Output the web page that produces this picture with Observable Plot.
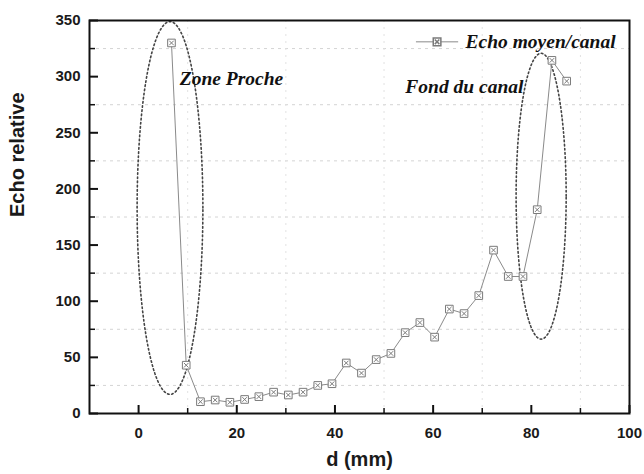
<!DOCTYPE html>
<html><head><meta charset="utf-8">
<script src="https://cdn.jsdelivr.net/npm/d3@7"></script>
<script src="https://cdn.jsdelivr.net/npm/@observablehq/plot@0.6"></script>
<style>body{margin:0;background:#fff}</style>
</head><body><div id="chart"></div>
<script>
const distance = [6.7, 9.7, 12.6, 15.6, 18.6, 21.6, 24.5, 27.5, 30.5, 33.5, 36.5, 39.4, 42.3, 45.4, 48.4, 51.4, 54.3, 57.3, 60.3, 63.3, 66.3, 69.3, 72.3, 75.3, 78.3, 81.2, 84.2, 87.2];
const echo = [330, 43, 10.5, 12, 10, 12.5, 15, 19, 16.5, 19, 25, 26.5, 45, 36, 48, 53.5, 72, 81, 68, 93, 89, 105, 145.5, 122, 122, 181.5, 314.5, 296];
const xTicks = [0, 20, 40, 60, 80, 100];
const xMinor = [10, 30, 50, 70, 90];
const yTicks = [0, 50, 100, 150, 200, 250, 300, 350];
const yMinor = [25, 75, 125, 175, 225, 275, 325];
const seriesName = "Echo moyen/canal";
const zoneLabels = ["Zone Proche", "Fond du canal"];
// ellipse annotations: centre and half-axes in data units
const ellipseCx = [6.4, 82.0];
const ellipseCy = [183, 193.5];
const ellipseRx = [6.7, 5.1];
const ellipseRy = [166, 127.3];

const xDomain = [-10, 100];
const yDomain = [0, 350];
const W = 644, H = 474, mL = 89, mR = 15, mT = 20, mB = 61;
const innerW = W - mL - mR, innerH = H - mT - mB;
// tick length in pixels converted to data units
const yPx = px => (yDomain[1] - yDomain[0]) * px / innerH;
const xPx = px => (xDomain[1] - xDomain[0]) * px / innerW;

const data = distance.map((d, i) => ({d, v: echo[i]}));
const ellipsePts = [];
ellipseCx.forEach((cx, k) => {
  for (let i = 0; i <= 120; i++) {
    const t = (i / 120) * 2 * Math.PI;
    ellipsePts.push({k, x: cx + ellipseRx[k] * Math.cos(t), y: ellipseCy[k] + ellipseRy[k] * Math.sin(t)});
  }
});

const serif = "'Liberation Serif', 'Times New Roman', serif";
const sans = "'Liberation Sans', Arial, sans-serif";
const markerStroke = "#7a7a7a";

const chart = Plot.plot({
  width: W,
  height: H,
  marginLeft: mL,
  marginRight: mR,
  marginTop: mT,
  marginBottom: mB,
  style: {fontFamily: sans, background: "#fff"},
  x: {domain: xDomain},
  y: {domain: yDomain},
  marks: [
    Plot.ruleY(yMinor, {stroke: "#d4d4d4", strokeDasharray: "3,4", strokeWidth: 1}),
    Plot.ruleX(xMinor, {stroke: "#e2e2e2", strokeDasharray: "2,5", strokeWidth: 1}),
    Plot.line(ellipsePts, {x: "x", y: "y", z: "k", stroke: "#444", strokeWidth: 1.6, strokeDasharray: "1.6,2.6", curve: "linear"}),
    Plot.line(data, {x: "d", y: "v", stroke: "#8a8a8a", strokeWidth: 1}),
    Plot.dot(data, {x: "d", y: "v", symbol: "square", r: 4.3, stroke: markerStroke, fill: "#fff", strokeWidth: 1}),
    Plot.dot(data, {x: "d", y: "v", symbol: "times", r: 2.2, stroke: markerStroke, strokeWidth: 1}),
    // legend
    Plot.ruleY([331], {x1: 56.6, x2: 65.2, stroke: "#8a8a8a", strokeWidth: 1}),
    Plot.dot([60.8], {x: d => d, y: 331, symbol: "square", r: 4.3, stroke: markerStroke, fill: "#fff"}),
    Plot.dot([60.8], {x: d => d, y: 331, symbol: "times", r: 2.2, stroke: markerStroke}),
    Plot.text([seriesName], {x: 66.6, y: 331, text: d => d, textAnchor: "start", fontFamily: serif, fontStyle: "italic", fontWeight: "bold", fontSize: 19.5, fill: "#111"}),
    // annotations
    Plot.text([zoneLabels[0]], {x: 8.4, y: 298, text: d => d, textAnchor: "start", fontFamily: serif, fontStyle: "italic", fontWeight: "bold", fontSize: 19.5, fill: "#111"}),
    Plot.text([zoneLabels[1]], {x: 78.4, y: 291, text: d => d, textAnchor: "end", fontFamily: serif, fontStyle: "italic", fontWeight: "bold", fontSize: 19.5, fill: "#111"}),
    // inward ticks
    Plot.ruleX(xTicks, {y1: yDomain[0], y2: yDomain[0] + yPx(8), stroke: "#111", strokeWidth: 2}),
    Plot.ruleX(xMinor, {y1: yDomain[0], y2: yDomain[0] + yPx(5), stroke: "#111", strokeWidth: 1.5}),
    Plot.ruleY(yTicks, {x1: xDomain[0], x2: xDomain[0] + xPx(9), stroke: "#111", strokeWidth: 2}),
    Plot.ruleY(yMinor, {x1: xDomain[0], x2: xDomain[0] + xPx(6), stroke: "#111", strokeWidth: 1.5}),
    Plot.frame({stroke: "#111", strokeWidth: 2}),
    Plot.axisX(xTicks, {anchor: "bottom", tickSize: 0, tickPadding: 14, fontSize: 15, fontWeight: "bold", label: null, fill: "#1a1a1a"}),
    Plot.axisY(yTicks, {anchor: "left", tickSize: 0, tickPadding: 9, fontSize: 15, fontWeight: "bold", label: null, fill: "#1a1a1a"}),
    Plot.text(["d (mm)"], {frameAnchor: "bottom", dy: 52, text: d => d, fontSize: 20, fontWeight: "bold", fill: "#1a1a1a"}),
    Plot.text(["Echo relative"], {frameAnchor: "left", dx: -72, rotate: -90, text: d => d, fontSize: 20, fontWeight: "bold", fill: "#1a1a1a"})
  ]
});
document.getElementById("chart").appendChild(chart);
</script>
</body></html>
